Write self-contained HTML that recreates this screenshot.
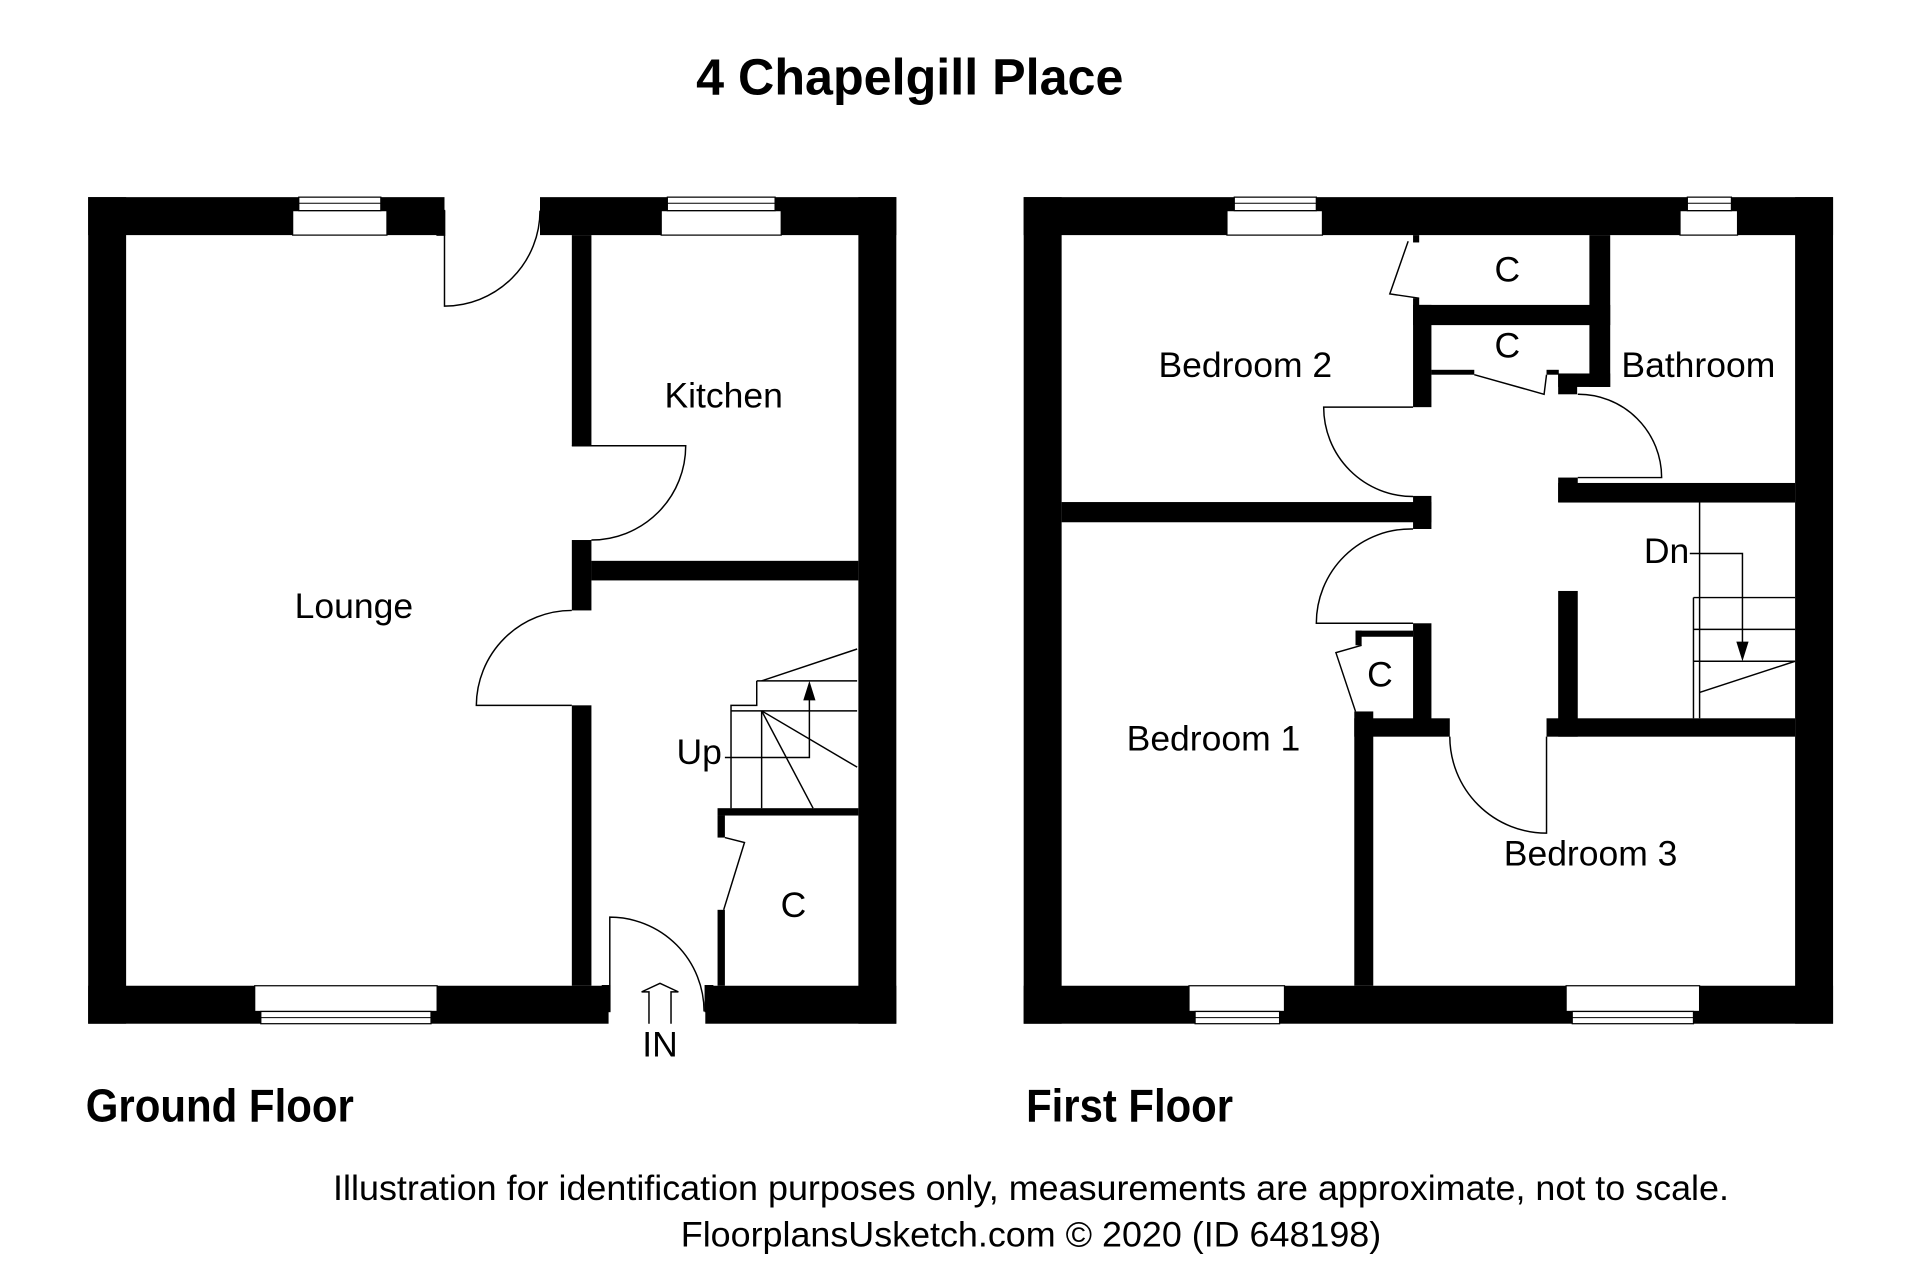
<!DOCTYPE html>
<html><head><meta charset="utf-8"><style>
html,body{margin:0;padding:0;background:#fff;}
svg{display:block;}
text{font-family:"Liberation Sans Narrow","Liberation Sans",sans-serif;fill:#000;}
</style></head><body>
<svg width="1920" height="1280" viewBox="0 0 1568 1045.3" preserveAspectRatio="none" xmlns="http://www.w3.org/2000/svg">
<rect width="1568" height="1046" fill="#fff"/>
<!-- Titles -->
<text x="743" y="77" font-size="42" font-weight="bold" text-anchor="middle" textLength="349" lengthAdjust="spacingAndGlyphs">4 Chapelgill Place</text>
<text x="70" y="916" font-size="38" font-weight="bold" textLength="219" lengthAdjust="spacingAndGlyphs">Ground Floor</text>
<text x="838" y="916" font-size="38" font-weight="bold" textLength="169" lengthAdjust="spacingAndGlyphs">First Floor</text>
<text x="842" y="980" font-size="29" text-anchor="middle" textLength="1140" lengthAdjust="spacingAndGlyphs">Illustration for identification purposes only, measurements are approximate, not to scale.</text>
<text x="842" y="1018" font-size="29" text-anchor="middle" textLength="572" lengthAdjust="spacingAndGlyphs">FloorplansUsketch.com © 2020 (ID 648198)</text>

<g fill="#000">
<!-- Ground floor walls -->
<rect x="72" y="161" width="291" height="31"/>
<rect x="441" y="161" width="291" height="31"/>
<rect x="72" y="161" width="31" height="675"/>
<rect x="701" y="161" width="31" height="675"/>
<rect x="72" y="805" width="425" height="31"/>
<rect x="576" y="805" width="156" height="31"/>
<rect x="467" y="192" width="16" height="172"/>
<rect x="467" y="441" width="16" height="57.5"/>
<rect x="467" y="576" width="16" height="229"/>
<rect x="483" y="458" width="218" height="16"/>
<rect x="586" y="660" width="115" height="6"/>
<rect x="586" y="666" width="6" height="18"/>
<rect x="586" y="743" width="6" height="62"/>

<!-- First floor walls -->
<rect x="836" y="161" width="661" height="31"/>
<rect x="836" y="161" width="31" height="675"/>
<rect x="1466" y="161" width="31" height="675"/>
<rect x="836" y="805" width="661" height="31"/>
<rect x="1154" y="192" width="5" height="6"/>
<rect x="1154" y="243.5" width="5" height="6"/>
<rect x="1154" y="249" width="161" height="16.5"/>
<rect x="1298" y="192" width="17" height="124"/>
<rect x="1272.5" y="305" width="42.5" height="11"/>
<rect x="1272.5" y="305" width="15.5" height="17"/>
<rect x="1154" y="249" width="15" height="83.5"/>
<rect x="1154" y="405" width="15" height="27"/>
<rect x="1154" y="509" width="15" height="78"/>
<rect x="1169" y="302" width="35" height="4"/>
<rect x="1263" y="302" width="10" height="4"/>
<rect x="867" y="410" width="302" height="16.5"/>
<rect x="1107" y="515" width="47" height="5"/>
<rect x="1107" y="515" width="5" height="12"/>
<rect x="1106" y="581" width="15.5" height="224"/>
<rect x="1106" y="586.6" width="78" height="15"/>
<rect x="1263" y="586.6" width="203" height="15"/>
<rect x="1272.5" y="482.6" width="16" height="119"/>
<rect x="1272.5" y="394.4" width="193.5" height="16"/>
<rect x="1272.5" y="390" width="16" height="20"/>
</g>

<!-- Windows -->
<g fill="#fff" stroke="#000" stroke-width="1">
<rect x="239" y="172" width="77" height="20"/>
<rect x="244" y="161" width="67" height="11"/>
<rect x="540" y="172" width="98" height="20"/>
<rect x="545" y="161" width="88" height="11"/>
<rect x="208" y="805" width="149" height="21"/>
<rect x="213" y="826" width="139" height="10"/>
<rect x="1002" y="172" width="78" height="20"/>
<rect x="1008" y="161" width="67" height="11"/>
<rect x="1372" y="172" width="47" height="20"/>
<rect x="1378" y="161" width="36" height="11"/>
<rect x="971" y="805" width="78" height="21"/>
<rect x="976" y="826" width="69" height="10"/>
<rect x="1279" y="805" width="109" height="21"/>
<rect x="1284" y="826" width="99" height="10"/>
</g>
<g stroke="#000" stroke-width="0.8">
<line x1="244" y1="166" x2="311" y2="166"/><line x1="545" y1="166" x2="633" y2="166"/>
<line x1="213" y1="831" x2="352" y2="831"/><line x1="1008" y1="166" x2="1075" y2="166"/>
<line x1="1378" y1="166" x2="1414" y2="166"/><line x1="976" y1="831" x2="1045" y2="831"/>
<line x1="1284" y1="831" x2="1383" y2="831"/>
</g>

<!-- Doors and stairs -->
<g fill="none" stroke="#000" stroke-width="1.2">
<!-- GF -->
<path d="M363 172 V250 A78 78 0 0 0 441 172"/>
<rect x="357" y="172" width="6" height="20" fill="#000"/>
<path d="M467 364 H560 A77 77 0 0 1 483 441"/>
<path d="M467 576 H389 A78 78 0 0 1 467 498.5"/>
<path d="M498 826 V749 A77 77 0 0 1 575 826"/>
<rect x="492" y="805" width="6" height="21" fill="#000"/>
<rect x="576" y="805" width="6" height="21" fill="#000"/>
<path d="M592 684 L608 688 L591 743"/>
<path d="M530 836 V810 H524 L539 803 L554 810 H548 V836"/>
<!-- GF stairs -->
<path d="M622 556 L700 530"/>
<path d="M618 556 H700"/>
<path d="M618 556 V576 H597 V660"/>
<path d="M597 580.5 H700"/>
<path d="M622 580.5 V660"/>
<path d="M622 580.5 L700 626.5"/>
<path d="M622 580.5 L664 660"/>
<path d="M592 618.6 H661 V566"/>
<!-- FF -->
<path d="M1150 197 L1135 240 L1159 243.5"/>
<path d="M1204 306 L1261 322 L1263 306"/>
<path d="M1154 332.5 H1081 A73 73 0 0 0 1154 405.5"/>
<path d="M1154 509 H1075 A77 77 0 0 1 1154 432"/>
<path d="M1112 527 L1091 533 L1107 581"/>
<path d="M1263 601.6 V680.4 A79 79 0 0 1 1184 601.6"/>
<path d="M1288.5 322 A68 68 0 0 1 1357 390 H1288.5"/>
<!-- FF stairs -->
<path d="M1388 410.4 V586.6"/>
<path d="M1383 488 V586.6"/>
<path d="M1383 488 H1466 M1383 514 H1466 M1383 540 H1466"/>
<path d="M1388 565.5 L1466 540"/>
<path d="M1380 452 H1423 V530"/>
</g>
<polygon points="661,556 656,572 666,572" fill="#000"/>
<polygon points="1423,540 1418,524 1428,524" fill="#000"/>

<!-- Labels -->
<g font-size="29" text-anchor="middle" dominant-baseline="central">
<text x="591" y="323">Kitchen</text>
<text x="289" y="495">Lounge</text>
<text x="571" y="614">Up</text>
<text x="648" y="739">C</text>
<text x="539" y="853">IN</text>
<text x="1017" y="298">Bedroom 2</text>
<text x="1387" y="298">Bathroom</text>
<text x="1231" y="220">C</text>
<text x="1231" y="282">C</text>
<text x="1361" y="450">Dn</text>
<text x="1127" y="551">C</text>
<text x="991" y="603">Bedroom 1</text>
<text x="1299" y="697">Bedroom 3</text>
</g>
</svg>
</body></html>
